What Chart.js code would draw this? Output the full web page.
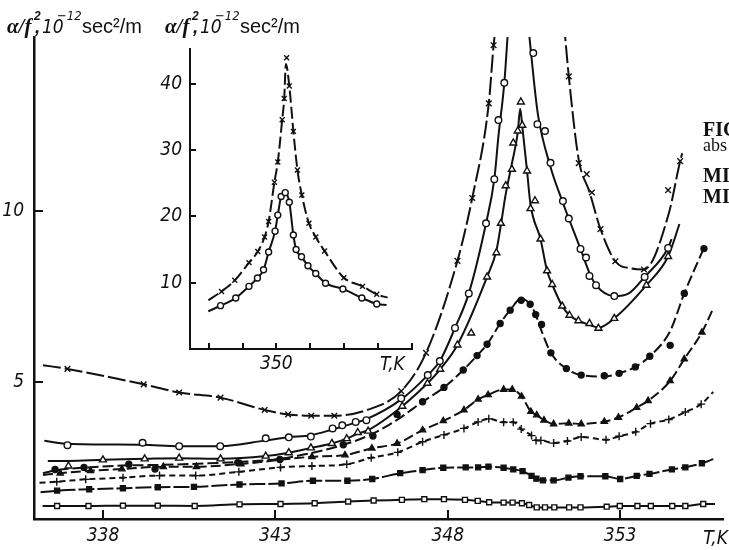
<!DOCTYPE html>
<html>
<head>
<meta charset="utf-8">
<script src="https://cdn.jsdelivr.net/npm/chart.js@4.4.1/dist/chart.umd.min.js"></script>
<style>
  html, body { margin: 0; padding: 0; background: #fff; }
  #wrap { position: relative; width: 729px; height: 550px; overflow: hidden; background: #fff; }
  #main { position: absolute; left: 0; top: 0; }
  #inset { position: absolute; left: 150px; top: 30px; }
</style>
</head>
<body>
<div id="wrap">
  <canvas id="main" width="729" height="550"></canvas>
  <canvas id="inset" width="270" height="345"></canvas>
</div>
<script>
// main plot: T (K) and alpha/f^2 (1e-12 sec^2/m)
const xTicks = [338, 343, 348, 353];
const yTicks = [5, 10];

// x  (crosses, long dash)
const crossT = [336.97, 339.18, 340.21, 341.41, 342.69, 343.37, 344.04, 344.71, 346.65, 347.37, 348.28, 348.71, 349.19, 349.33, 351.51, 351.80, 352.03, 352.18, 352.43, 352.86, 353.69, 354.39, 354.74];
const crossV = [5.39, 4.94, 4.70, 4.55, 4.19, 4.06, 4.02, 4.02, 4.74, 5.86, 8.55, 10.39, 13.16, 14.86, 13.95, 11.41, 11.09, 10.55, 9.48, 8.54, 8.30, 10.62, 11.47];
const crossLineT = [336.26, 336.97, 339.18, 340.21, 341.41, 342.69, 343.37, 344.04, 344.71, 345.69, 346.65, 347.37, 348.28, 348.71, 349.19, 349.33, 349.40, 350.4, 351.37, 351.51, 351.80, 352.10, 352.43, 352.86, 353.31, 353.69, 354.40, 354.74, 354.80];
const crossLineV = [5.50, 5.39, 4.94, 4.70, 4.55, 4.19, 4.06, 4.02, 4.02, 4.20, 4.74, 5.86, 8.55, 10.39, 13.16, 14.86, 15.5, null, 15.5, 13.95, 11.5, 10.6, 9.48, 8.54, 8.33, 8.30, 9.9, 11.47, 11.7];

// open circles (solid)
const circT = [336.97, 339.15, 340.21, 341.40, 342.72, 343.39, 344.03, 344.66, 344.94, 345.33, 345.64, 346.65, 347.42, 347.77, 348.21, 348.61, 349.11, 349.35, 349.47, 349.64, 350.48, 350.60, 350.82, 350.98, 351.34, 351.51, 351.85, 352.01, 352.11, 352.30, 352.83, 353.71, 354.39];
const circV = [3.16, 3.23, 3.13, 3.13, 3.36, 3.39, 3.41, 3.65, 3.74, 3.84, 3.89, 4.53, 5.21, 5.62, 6.59, 7.60, 9.65, 10.94, 12.67, 13.76, 14.63, 12.55, 12.35, 11.42, 10.30, 9.79, 8.90, 8.65, 8.11, 7.84, 7.52, 8.08, 8.93];
const circLineT = [336.30, 336.97, 339.15, 340.21, 341.40, 342.72, 343.39, 344.03, 344.66, 345.33, 345.64, 346.65, 347.42, 347.77, 348.21, 348.61, 349.11, 349.35, 349.47, 349.64, 349.76, 350.0, 350.33, 350.50, 350.62, 350.98, 351.34, 351.51, 351.85, 352.11, 352.30, 352.83, 353.25, 353.71, 354.39, 354.49];
const circLineV = [3.29, 3.20, 3.17, 3.13, 3.13, 3.30, 3.39, 3.45, 3.62, 3.82, 3.92, 4.50, 5.21, 5.62, 6.59, 7.60, 9.65, 10.94, 12.2, 13.76, 15.5, null, 15.5, 13.8, 12.8, 11.3, 10.25, 9.79, 8.90, 8.20, 7.84, 7.52, 7.60, 8.08, 8.93, 9.19];

// open triangles (solid)
const triT = [337.00, 338.00, 339.21, 340.21, 341.41, 342.72, 343.39, 344.03, 344.64, 345.07, 345.39, 345.69, 346.68, 347.41, 347.78, 348.28, 348.68, 349.14, 349.41, 349.54, 349.68, 349.86, 349.90, 350.03, 350.12, 350.16, 350.30, 350.40, 350.53, 350.69, 350.88, 351.03, 351.32, 351.53, 351.79, 352.11, 352.37, 352.83, 353.76, 354.39];
const triV = [2.55, 2.73, 2.76, 2.78, 2.76, 2.84, 2.94, 3.08, 3.21, 3.35, 3.53, 3.57, 4.30, 4.97, 5.38, 6.09, 6.44, 8.08, 8.79, 9.65, 10.75, 11.23, 12.00, 12.35, 13.20, 12.52, 11.18, 10.08, 10.31, 9.19, 8.26, 7.86, 7.23, 6.96, 6.80, 6.72, 6.58, 6.87, 7.84, 8.68];
const triLineT = [336.40, 337.00, 338.00, 339.21, 340.21, 341.41, 342.72, 343.39, 344.03, 344.64, 345.07, 345.39, 345.69, 346.68, 347.41, 347.78, 348.28, 349.14, 349.41, 349.54, 349.68, 349.86, 350.03, 350.10, 350.16, 350.30, 350.40, 350.69, 350.88, 351.03, 351.32, 351.53, 351.79, 352.11, 352.37, 352.83, 353.76, 354.39, 354.72];
const triLineV = [2.70, 2.70, 2.73, 2.76, 2.78, 2.76, 2.84, 2.94, 3.08, 3.21, 3.35, 3.50, 3.60, 4.30, 4.97, 5.38, 6.09, 8.08, 8.85, 9.60, 10.50, 11.40, 12.30, 13.00, 12.50, 11.18, 10.20, 9.19, 8.26, 7.86, 7.23, 6.96, 6.80, 6.68, 6.60, 6.87, 7.84, 8.68, 9.63];

// filled circles (dashed)
const dotT = [336.61, 337.45, 338.75, 339.51, 341.91, 343.13, 344.97, 345.83, 346.53, 347.27, 347.89, 348.45, 348.85, 349.14, 349.52, 349.81, 350.13, 350.39, 350.55, 350.72, 350.99, 351.44, 351.87, 352.54, 352.97, 353.44, 353.86, 354.45, 354.86, 355.43];
const dotV = [2.45, 2.51, 2.60, 2.46, 2.65, 2.74, 3.17, 3.43, 4.06, 4.43, 4.85, 5.36, 5.78, 6.11, 6.72, 7.11, 7.40, 7.28, 6.98, 6.69, 5.86, 5.40, 5.21, 5.19, 5.26, 5.45, 5.76, 6.08, 7.60, 8.91];
const dotLineT = [336.26, 336.61, 337.45, 338.75, 339.51, 341.91, 343.13, 344.97, 345.83, 346.53, 347.27, 347.89, 348.45, 348.85, 349.14, 349.52, 349.81, 350.13, 350.39, 350.55, 350.72, 350.99, 351.44, 351.87, 352.54, 352.97, 353.44, 353.86, 354.45, 354.86, 355.46];
const dotLineV = [2.34, 2.42, 2.50, 2.57, 2.58, 2.67, 2.76, 3.17, 3.50, 3.90, 4.43, 4.85, 5.36, 5.78, 6.11, 6.72, 7.11, 7.45, 7.28, 6.98, 6.50, 5.86, 5.40, 5.21, 5.17, 5.26, 5.45, 5.76, 6.50, 7.60, 9.00];

// filled triangles (dashed)
const fTriT = [336.76, 337.64, 338.55, 339.75, 340.71, 342.00, 344.06, 345.02, 345.80, 346.53, 347.27, 347.87, 348.47, 348.88, 349.17, 349.62, 349.87, 350.14, 350.41, 350.58, 350.79, 351.07, 351.51, 351.87, 352.54, 352.95, 353.48, 353.81, 354.45, 354.86, 355.37];
const fTriV = [2.34, 2.41, 2.46, 2.53, 2.53, 2.61, 2.82, 2.87, 3.07, 3.21, 3.60, 3.87, 4.19, 4.50, 4.63, 4.79, 4.79, 4.59, 4.14, 4.04, 3.89, 3.78, 3.80, 3.78, 3.85, 3.97, 4.26, 4.46, 5.04, 5.68, 6.46];
const fTriEndT = [336.26, 355.70];
const fTriEndV = [2.29, 7.16];

// plus (short dash)
const plusT = [336.66, 337.50, 338.58, 339.64, 340.69, 341.94, 343.15, 344.06, 345.07, 345.78, 346.55, 347.27, 347.89, 348.47, 348.88, 349.19, 349.62, 349.90, 350.13, 350.43, 350.56, 350.70, 351.07, 351.47, 351.87, 352.59, 352.97, 353.45, 353.88, 354.41, 354.89, 355.35];
const plusV = [2.09, 2.16, 2.21, 2.27, 2.27, 2.38, 2.51, 2.55, 2.60, 2.79, 2.95, 3.26, 3.46, 3.65, 3.84, 3.93, 3.83, 3.83, 3.63, 3.44, 3.30, 3.30, 3.22, 3.28, 3.40, 3.32, 3.42, 3.55, 3.79, 3.91, 4.13, 4.36];
const plusEndT = [336.16, 355.70];
const plusEndV = [2.06, 4.72];

// filled squares
const fSqT = [336.67, 337.60, 338.58, 339.59, 340.64, 341.96, 343.18, 344.09, 345.09, 345.81, 346.62, 347.27, 347.87, 348.52, 348.88, 349.18, 349.62, 349.90, 350.17, 350.43, 350.57, 350.76, 351.07, 351.50, 351.85, 352.57, 353.00, 353.48, 353.85, 354.50, 354.89, 355.37];
const fSqV = [1.83, 1.87, 1.90, 1.93, 1.94, 2.01, 2.04, 2.12, 2.12, 2.17, 2.34, 2.43, 2.50, 2.51, 2.51, 2.53, 2.50, 2.45, 2.40, 2.26, 2.18, 2.13, 2.13, 2.21, 2.25, 2.25, 2.17, 2.26, 2.32, 2.45, 2.51, 2.63];
const fSqEndT = [336.19, 355.70];
const fSqEndV = [1.78, 2.75];

// open squares
const sqT = [336.67, 337.58, 338.58, 339.59, 340.66, 341.96, 343.15, 344.14, 345.11, 345.85, 346.67, 347.32, 347.89, 348.50, 348.87, 349.20, 349.62, 349.88, 350.15, 350.36, 350.58, 350.82, 351.09, 351.52, 351.85, 352.61, 352.99, 353.50, 353.89, 354.51, 354.89, 355.41];
const sqV = [1.38, 1.38, 1.39, 1.39, 1.38, 1.43, 1.44, 1.46, 1.51, 1.54, 1.56, 1.58, 1.58, 1.56, 1.53, 1.49, 1.48, 1.48, 1.46, 1.41, 1.34, 1.34, 1.34, 1.34, 1.34, 1.36, 1.38, 1.38, 1.38, 1.38, 1.38, 1.44];
const sqEndT = [336.25, 355.75];
const sqEndV = [1.38, 1.44];

// inset
const insetXTicks = [348, 349, 350, 351, 352, 353, 354];
const insetYTicks = [10, 20, 30, 40];
const insCrossT = [348.38, 348.77, 349.19, 349.45, 349.65, 349.77, 349.94, 350.04, 350.17, 350.23, 350.30, 350.38, 350.50, 350.62, 350.75, 350.96, 351.16, 351.42, 351.99, 352.54, 352.96];
const insCrossV = [8.68, 10.36, 13.03, 14.72, 16.90, 19.23, 25.15, 28.20, 34.59, 37.79, 43.93, 39.68, 32.83, 27.01, 23.23, 18.97, 16.90, 14.78, 10.76, 9.45, 8.25];
const insCrossLineT = [347.99, 348.38, 348.77, 349.19, 349.45, 349.65, 349.77, 349.94, 350.04, 350.17, 350.23, 350.28, 350.38, 350.50, 350.62, 350.75, 350.96, 351.16, 351.42, 351.99, 352.54, 352.96, 353.28];
const insCrossLineV = [7.36, 8.68, 10.36, 13.03, 14.72, 16.90, 19.23, 25.15, 28.20, 34.59, 37.79, 43.00, 39.68, 32.83, 27.01, 23.23, 18.97, 16.90, 14.78, 10.76, 9.45, 8.25, 7.75];
const insCircT = [348.35, 348.80, 349.19, 349.44, 349.62, 349.77, 349.96, 350.04, 350.14, 350.26, 350.38, 350.50, 350.58, 350.74, 350.93, 351.16, 351.45, 351.96, 352.52, 352.96];
const insCircV = [6.54, 7.70, 9.45, 10.71, 11.96, 14.63, 17.78, 20.20, 23.01, 23.59, 22.14, 17.20, 15.02, 13.91, 12.55, 11.39, 9.93, 9.06, 7.70, 6.79];
const insCircEndT = [347.99, 353.25];
const insCircEndV = [5.67, 6.64];

const INK = '#111';
const tickFont = { family: '"Liberation Sans Narrow", "DejaVu Sans Condensed", sans-serif', style: 'italic', size: 19 };

function pts(ts, vs) {
    return ts.map((t, i) => ({ x: t, y: vs[i] }));
}

function withEnds(ts, vs, et, ev) {
    return pts([et[0], ...ts, et[1]], [ev[0], ...vs, ev[1]]);
}

/**
 * Curve dataset
 */
function curve(data, dash) {
    return {
        data: data, showLine: true, pointRadius: 0, borderColor: INK, borderWidth: 2,
        borderDash: dash, cubicInterpolationMode: 'monotone', spanGaps: false, order: 2
    };
}

/**
 * Marker dataset
 */
function marks(data, style, fill, r) {
    return {
        data: data, showLine: false, pointStyle: style, pointRadius: r,
        pointBackgroundColor: fill, pointBorderColor: INK, pointBorderWidth: 1.4, order: 1
    };
}

/**
 * Ticks pointing into the plot
 */
const inwardTicks = {
    id: 'inwardTicks',
    afterDatasetsDraw(chart, args, opts) {
        const { ctx, chartArea: a, scales: { x, y } } = chart;
        ctx.save();
        ctx.strokeStyle = INK;
        ctx.lineWidth = opts.width;
        ctx.beginPath();
        x.ticks.forEach(t => {
            const px = Math.round(x.getPixelForValue(t.value));
            ctx.moveTo(px, a.bottom);
            ctx.lineTo(px, a.bottom - opts.len);
        });
        y.ticks.forEach(t => {
            const py = Math.round(y.getPixelForValue(t.value));
            ctx.moveTo(a.left, py);
            ctx.lineTo(a.left + opts.len, py);
        });
        ctx.stroke();
        ctx.restore();
    }
};

/**
 * Axis unit "a/f^2, 10^-12 sec^2/m"
 */
function unitLabel(ctx, x, y) {
    ctx.fillStyle = INK;
    ctx.textBaseline = 'alphabetic';
    ctx.textAlign = 'left';
    ctx.font = 'italic bold 21px "Liberation Serif", serif';
    ctx.fillText('α/f', x, y);
    ctx.font = 'italic bold 12px "Liberation Sans", sans-serif';
    ctx.fillText('2', x + 27, y - 13);
    ctx.font = 'italic bold 19px "Liberation Sans", sans-serif';
    ctx.fillText(',', x + 28, y);
    ctx.font = 'italic 19px "Liberation Sans Narrow", "DejaVu Sans Condensed", sans-serif';
    ctx.fillText('10', x + 35, y);
    ctx.font = 'italic 13px "Liberation Sans Narrow", "DejaVu Sans Condensed", sans-serif';
    ctx.fillText('−12', x + 50, y - 13);
    ctx.font = '20px "Liberation Sans", sans-serif';
    ctx.fillText('sec²/m', x + 75, y);
}

const mainText = {
    id: 'mainText',
    afterDraw(chart) {
        const ctx = chart.ctx;
        ctx.save();
        unitLabel(ctx, 7, 33);
        unitLabel(ctx, 165, 33);
        ctx.font = 'italic 19px "Liberation Sans Narrow", "DejaVu Sans Condensed", sans-serif';
        ctx.textAlign = 'right';
        ctx.fillText('T,K', 728, 544);
        ctx.textAlign = 'left';
        ctx.font = 'bold 20px "Liberation Serif", serif';
        ctx.fillText('FIG', 703, 136);
        ctx.font = '18px "Liberation Serif", serif';
        ctx.fillText('abs', 703, 151);
        ctx.font = 'bold 20px "Liberation Serif", serif';
        ctx.fillText('MI', 703, 182);
        ctx.fillText('MI', 703, 203);
        ctx.restore();
    }
};

const insetText = {
    id: 'insetText',
    afterDraw(chart) {
        const ctx = chart.ctx;
        ctx.save();
        ctx.fillStyle = INK;
        ctx.font = 'italic 19px "Liberation Sans Narrow", "DejaVu Sans Condensed", sans-serif';
        ctx.textAlign = 'left';
        ctx.fillText('T,K', 230, 340);
        ctx.restore();
    }
};

new Chart(document.getElementById('main'), {
    type: 'scatter',
    data: {
        datasets: [
            curve(pts(crossLineT, crossLineV), [18, 4]),
            curve(pts(circLineT, circLineV), []),
            curve(pts(triLineT, triLineV), []),
            curve(pts(dotLineT, dotLineV), [11, 4]),
            curve(withEnds(fTriT, fTriV, fTriEndT, fTriEndV), [10, 4]),
            curve(withEnds(plusT, plusV, plusEndT, plusEndV), [6, 4]),
            curve(withEnds(fSqT, fSqV, fSqEndT, fSqEndV), [16, 3]),
            curve(withEnds(sqT, sqV, sqEndT, sqEndV), []),
            marks(pts(crossT, crossV), 'crossRot', INK, 4),
            marks(pts(circT, circV), 'circle', '#fff', 3.3),
            marks(pts(triT, triV), 'triangle', '#fff', 4),
            marks(pts(dotT, dotV), 'circle', INK, 3),
            marks(pts(fTriT, fTriV), 'triangle', INK, 3.5),
            marks(pts(plusT, plusV), 'cross', INK, 4),
            marks(pts(fSqT, fSqV), 'rect', INK, 3.5),
            marks(pts(sqT, sqV), 'rect', '#fff', 3.5)
        ]
    },
    options: {
        responsive: false,
        animation: false,
        devicePixelRatio: 1,
        layout: { padding: { top: 37, right: 0, left: 0, bottom: 0 } },
        plugins: { legend: { display: false }, tooltip: { enabled: false }, inwardTicks: { len: 9, width: 2 } },
        scales: {
            x: {
                type: 'linear', min: 336, max: 356,
                afterBuildTicks: s => { s.ticks = xTicks.map(v => ({ value: v })); },
                afterFit: s => { s.height = 31; },
                grid: { display: false, drawTicks: false },
                border: { display: true, color: INK, width: 2.5 },
                ticks: { color: INK, font: tickFont, padding: 6, maxRotation: 0 }
            },
            y: {
                type: 'linear', min: 1, max: 15.1,
                afterBuildTicks: s => { s.ticks = yTicks.map(v => ({ value: v })); },
                afterFit: s => { s.width = 34; },
                grid: { display: false, drawTicks: false },
                border: { display: true, color: INK, width: 2.5 },
                ticks: { color: INK, font: tickFont, padding: 10 }
            }
        }
    },
    plugins: [inwardTicks, mainText]
});

new Chart(document.getElementById('inset'), {
    type: 'scatter',
    data: {
        datasets: [
            curve(pts(insCrossLineT, insCrossLineV), [12, 4]),
            curve(withEnds(insCircT, insCircV, insCircEndT, insCircEndV), []),
            marks(pts(insCrossT, insCrossV), 'crossRot', INK, 3.5),
            marks(pts(insCircT, insCircV), 'circle', '#fff', 3)
        ]
    },
    options: {
        responsive: false,
        animation: false,
        devicePixelRatio: 1,
        layout: { padding: { top: 8, right: 8, left: 0, bottom: 0 } },
        plugins: { legend: { display: false }, tooltip: { enabled: false }, inwardTicks: { len: 6, width: 2 } },
        scales: {
            x: {
                type: 'linear', min: 347.45, max: 354,
                afterBuildTicks: s => { s.ticks = insetXTicks.map(v => ({ value: v })); },
                afterFit: s => { s.height = 26; },
                grid: { display: false, drawTicks: false },
                border: { display: true, color: INK, width: 2 },
                ticks: { color: INK, font: tickFont, padding: 4, maxRotation: 0, callback: v => (v === 350 ? '350' : '') }
            },
            y: {
                type: 'linear', min: 0, max: 45.2,
                afterBuildTicks: s => { s.ticks = insetYTicks.map(v => ({ value: v })); },
                afterFit: s => { s.width = 40; },
                grid: { display: false, drawTicks: false },
                border: { display: true, color: INK, width: 2 },
                ticks: { color: INK, font: tickFont, padding: 8 }
            }
        }
    },
    plugins: [inwardTicks, insetText]
});
</script>
</body>
</html>
